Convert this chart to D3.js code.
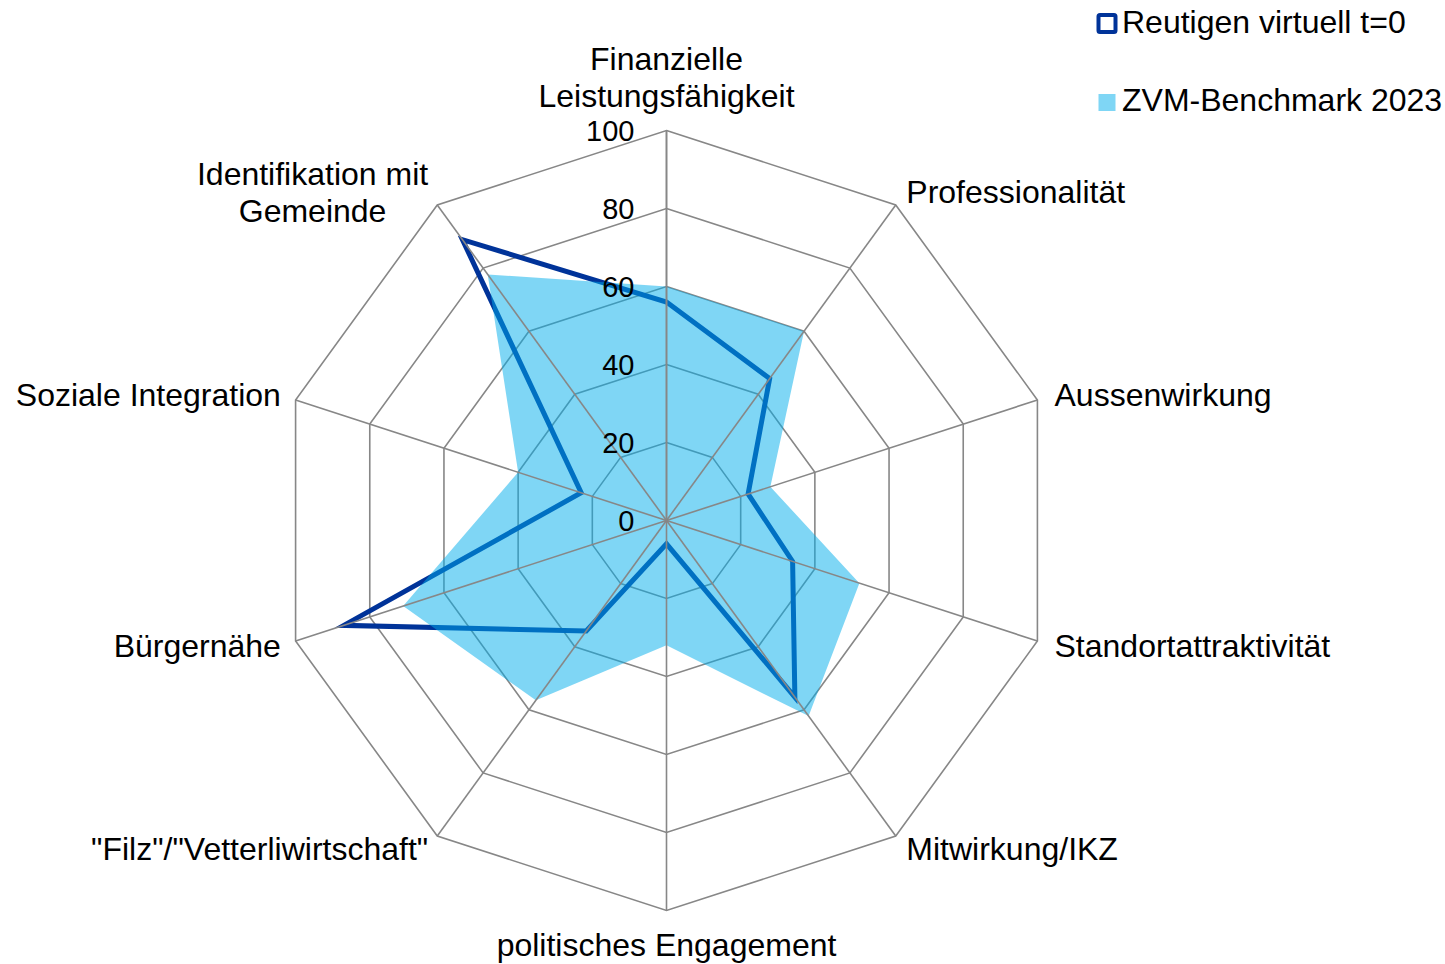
<!DOCTYPE html>
<html><head><meta charset="utf-8">
<script src="https://cdn.jsdelivr.net/npm/d3@7"></script>
<style>html,body{margin:0;padding:0;background:#fff;} svg{display:block;}</style>
</head><body>
<svg id="chart" width="1445" height="964"></svg>
<script>
// ---- data ----
const categories = [
  "Finanzielle\nLeistungsfähigkeit",
  "Professionalität",
  "Aussenwirkung",
  "Standortattraktivität",
  "Mitwirkung/IKZ",
  "politisches Engagement",
  "\"Filz\"/\"Vetterliwirtschaft\"",
  "Bürgernähe",
  "Soziale Integration",
  "Identifikation mit\nGemeinde"
];
const reutigen  = [56, 45, 22, 34, 56, 6, 35, 87, 23, 89];
const benchmark = [60, 60, 28, 52, 62, 32, 57, 71, 40, 78];
const tickValues = [0, 20, 40, 60, 80, 100];
const seriesNames = ["Reutigen virtuell t=0", "ZVM-Benchmark 2023"];

// ---- layout ----
const cx = 666.5, cy = 520.5, R = 390;
const FONT = "'Liberation Sans', Arial, sans-serif";
const labelSize = 32, tickSize = 29, lineH = 37;
const gridColor = "#878787";
const navy = "#003399";
const fillColor = "#00ADEB";

const svg = d3.select("#chart");
const g = svg.append("g").attr("transform", `translate(${cx},${cy})`);
const n = categories.length;
const step = 2 * Math.PI / n;
const r = d3.scaleLinear().domain([0, 100]).range([0, R]);
const ang = i => i * step;

// rings (under the fill)
const ringLine = v => d3.lineRadial()
  .angle((d, i) => ang(i))
  .radius(() => r(v))
  .curve(d3.curveLinearClosed);
g.append("g").selectAll("path").data(tickValues.filter(t => t > 0)).join("path")
  .attr("d", t => ringLine(t)(categories))
  .attr("fill", "none").attr("stroke", gridColor).attr("stroke-width", 1.6);

// series line (Reutigen)
const seriesLine = d3.lineRadial()
  .angle((d, i) => ang(i))
  .radius(d => r(d))
  .curve(d3.curveLinearClosed);
g.append("path").attr("d", seriesLine(reutigen))
  .attr("fill", "none").attr("stroke", navy).attr("stroke-width", 5)
  .attr("stroke-linejoin", "miter");

// benchmark filled area (on top, 50% transparent)
g.append("path").attr("d", seriesLine(benchmark))
  .attr("fill", fillColor).attr("fill-opacity", 0.5).attr("stroke", "none");

// spokes
g.append("g").selectAll("line").data(categories).join("line")
  .attr("x1", 0).attr("y1", 0)
  .attr("x2", (d, i) => Math.sin(ang(i)) * r(100))
  .attr("y2", (d, i) => -Math.cos(ang(i)) * r(100))
  .attr("stroke", gridColor).attr("stroke-width", (d, i) => i === 0 ? 2 : 1.6);

// tick labels
g.append("g").selectAll("text").data(tickValues).join("text")
  .attr("x", -32).attr("y", t => -r(t))
  .attr("dy", "0.35em")
  .attr("text-anchor", "end")
  .attr("font-family", FONT).attr("font-size", tickSize).attr("fill", "#000")
  .text(t => t);

// category labels
categories.forEach((lab, i) => {
  const a = ang(i), s = Math.sin(a), c = Math.cos(a);
  const vx = s * R, vy = -c * R;
  const lines = lab.split("\n");
  const H = lines.length * lineH;
  const t = g.append("text")
    .attr("font-family", FONT).attr("font-size", labelSize).attr("fill", "#000")
    .attr("text-anchor", "middle");
  lines.forEach(ln => t.append("tspan").text(ln));
  const W = d3.max(t.selectAll("tspan").nodes(), nd => nd.getComputedTextLength());
  let bx;
  if (s > 0.01) bx = vx + s * 18 + W / 2;
  else if (s < -0.01) bx = vx + s * 15.5 - W / 2;
  else bx = vx;
  const by = vy - c * 16 - (Math.abs(s) < 0.01 ? Math.sign(c) * H / 2 : 0);
  t.selectAll("tspan")
    .attr("x", bx)
    .attr("y", (d, k) => by - H / 2 + lineH / 2 + k * lineH + 0.35 * labelSize);
});

// legend
const leg = svg.append("g");
leg.append("rect").attr("x", 1098.5).attr("y", 15).attr("width", 17).attr("height", 17)
  .attr("rx", 1.5).attr("fill", "#fff").attr("stroke", navy).attr("stroke-width", 4);
leg.append("rect").attr("x", 1098.5).attr("y", 94).attr("width", 17).attr("height", 17)
  .attr("fill", fillColor).attr("fill-opacity", 0.5);
leg.selectAll("text").data(seriesNames).join("text")
  .attr("x", 1122).attr("y", (d, i) => i === 0 ? 33 : 111)
  .attr("font-family", FONT).attr("font-size", labelSize).attr("fill", "#000")
  .text(d => d);
</script>
</body></html>
